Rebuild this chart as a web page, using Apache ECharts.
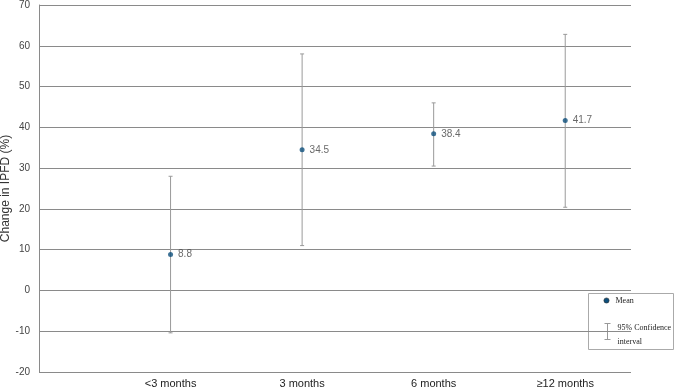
<!DOCTYPE html>
<html>
<head>
<meta charset="utf-8">
<script src="https://cdn.jsdelivr.net/npm/echarts@6/dist/echarts.min.js"></script>
<style>
  html, body { margin: 0; padding: 0; background: #fff; }
  #chart { width: 678px; height: 390px; }
</style>
</head>
<body>
<div id="chart"></div>
<script>
var groups = ['<3 months', '3 months', '6 months', '≥12 months'];
var means = [8.8, 34.5, 38.4, 41.7];
var ciLow = [-10.4, 11.0, 30.5, 20.4];
var ciHigh = [28.0, 58.0, 46.0, 62.8];

var myChart = echarts.init(document.getElementById('chart'));

var meanData = means.map(function (v, i) { return [i + 1, v]; });
var ciData = ciLow.map(function (v, i) { return [i + 1, v, ciHigh[i]]; });

var option = {
    animation: false,
    grid: { left: 39, right: 47, top: 5, bottom: 18, containLabel: false, outerBoundsMode: 'none' },
    xAxis: {
        type: 'value',
        min: 0,
        max: 4.5,
        interval: 1,
        axisLine: { show: false },
        axisTick: { show: false },
        splitLine: { show: false },
        axisLabel: {
            showMaxLabel: false,
            color: '#222',
            fontFamily: 'Liberation Sans Narrow, Liberation Sans, sans-serif',
            fontSize: 11,
            margin: 6,
            formatter: function (v) {
                return (v >= 1 && v <= 4 && v % 1 === 0) ? groups[v - 1] : '';
            }
        }
    },
    yAxis: {
        type: 'value',
        min: -20,
        max: 70,
        interval: 10,
        name: 'Change in IPFD (%)',
        nameLocation: 'middle',
        nameGap: 27,
        nameMoveOverlap: false,
        nameTextStyle: { color: '#333', fontSize: 12, fontFamily: 'Liberation Sans, sans-serif' },
        axisLine: { show: true, lineStyle: { color: '#8a8a8a', width: 1 } },
        axisTick: { show: false },
        axisLabel: { color: '#444', fontSize: 10, fontFamily: 'Liberation Sans, sans-serif', margin: 9 },
        splitLine: { lineStyle: { color: '#8a8a8a', width: 1 } }
    },
    series: [
        {
            name: '95% Confidence interval',
            type: 'custom',
            data: ciData,
            renderItem: function (params, api) {
                var x = api.value(0);
                var lo = api.coord([x, api.value(1)]);
                var hi = api.coord([x, api.value(2)]);
                var w = 2;
                var st = { stroke: '#9a9a9a', lineWidth: 1 };
                return {
                    type: 'group',
                    children: [
                        { type: 'line', shape: { x1: lo[0], y1: lo[1], x2: hi[0], y2: hi[1] }, style: st },
                        { type: 'line', shape: { x1: lo[0] - w, y1: lo[1], x2: lo[0] + w, y2: lo[1] }, style: st },
                        { type: 'line', shape: { x1: hi[0] - w, y1: hi[1], x2: hi[0] + w, y2: hi[1] }, style: st }
                    ]
                };
            },
            z: 3
        },
        {
            name: 'Mean',
            type: 'scatter',
            data: meanData,
            symbolSize: 5,
            itemStyle: { color: '#0d4f7c' },
            label: {
                show: true,
                position: 'right',
                distance: 5,
                color: '#444',
                fontSize: 10,
                fontFamily: 'Liberation Sans, sans-serif',
                formatter: function (p) { return p.value[1].toFixed(1); }
            },
            z: 4
        }
    ],
    graphic: [
        {
            type: 'group',
            left: 588,
            top: 293,
            z: 10,
            children: [
                { type: 'rect', shape: { x: 0, y: 0, width: 85, height: 56 }, style: { fill: '#fff', stroke: '#aaa', lineWidth: 1 } },
                { type: 'circle', shape: { cx: 18, cy: 7, r: 2.6 }, style: { fill: '#0d4f7c', stroke: '#333', lineWidth: 0.6 } },
                { type: 'text', x: 27, y: 7, style: { text: 'Mean', fontFamily: 'Liberation Serif, serif', fontSize: 8, fill: '#222', verticalAlign: 'middle' } },
                { type: 'line', shape: { x1: 19, y1: 30, x2: 19, y2: 46 }, style: { stroke: '#999', lineWidth: 1 } },
                { type: 'line', shape: { x1: 16, y1: 30, x2: 22, y2: 30 }, style: { stroke: '#999', lineWidth: 1 } },
                { type: 'line', shape: { x1: 16, y1: 46, x2: 22, y2: 46 }, style: { stroke: '#999', lineWidth: 1 } },
                { type: 'text', x: 29, y: 34, style: { text: '95% Confidence', fontFamily: 'Liberation Serif, serif', fontSize: 8, fill: '#222', verticalAlign: 'middle' } },
                { type: 'text', x: 29, y: 48, style: { text: 'interval', fontFamily: 'Liberation Serif, serif', fontSize: 8, fill: '#222', verticalAlign: 'middle' } }
            ]
        }
    ]
};

myChart.setOption(option);
</script>
</body>
</html>
